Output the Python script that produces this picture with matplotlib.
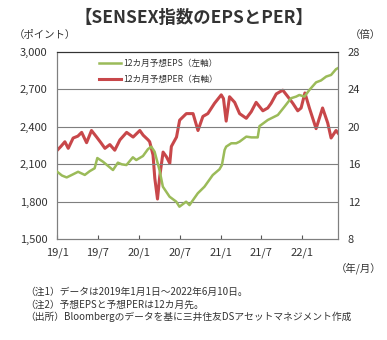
import matplotlib
matplotlib.use("Agg")
import matplotlib.pyplot as plt
import numpy as np
import pandas as pd

plt.rcParams['font.family'] = ['Noto Sans CJK JP', 'DejaVu Sans']

eps_dates = ["2019-01-01","2019-01-22","2019-02-12","2019-03-07","2019-04-04","2019-05-04","2019-05-26",
             "2019-06-17","2019-06-29","2019-07-24","2019-08-14","2019-09-07","2019-09-29","2019-10-16",
             "2019-11-06","2019-12-05","2019-12-20","2020-01-19","2020-02-10","2020-02-25","2020-03-11",
             "2020-04-02","2020-04-17","2020-05-17","2020-06-16","2020-06-30","2020-07-30","2020-08-14",
             "2020-09-20","2020-10-20","2020-11-26","2020-12-26","2021-01-06","2021-01-18","2021-01-25",
             "2021-02-17","2021-03-11","2021-03-26","2021-04-25","2021-05-18","2021-06-15","2021-06-23",
             "2021-07-30","2021-09-13","2021-10-13","2021-11-11","2021-12-04","2021-12-18","2022-01-10",
             "2022-02-01","2022-03-03","2022-03-25","2022-04-17","2022-05-09","2022-05-31","2022-06-10"]
eps_values = [2040,2010,1995,2015,2040,2015,2045,
              2068,2150,2121,2090,2054,2113,2100,
              2094,2156,2134,2166,2220,2241,2201,
              2054,1921,1841,1801,1761,1801,1774,
              1868,1921,2014,2060,2094,2214,2241,
              2268,2268,2281,2321,2315,2315,2405,
              2454,2494,2561,2628,2641,2654,2641,
              2694,2755,2770,2801,2814,2860,2870]

per_dates = ["2019-01-01","2019-01-17","2019-02-04","2019-02-19","2019-03-13","2019-04-03","2019-04-20",
             "2019-05-12","2019-06-03","2019-06-26","2019-07-15","2019-08-02","2019-08-24","2019-09-15",
             "2019-10-08","2019-11-07","2019-12-06","2020-01-05","2020-01-20","2020-02-11","2020-02-18",
             "2020-03-04","2020-03-12","2020-03-24","2020-04-03","2020-04-18","2020-05-03","2020-05-18",
             "2020-05-25","2020-06-17","2020-07-01","2020-07-31","2020-08-30","2020-09-21","2020-10-13",
             "2020-11-04","2020-12-04","2021-01-03","2021-01-13","2021-01-25","2021-02-09","2021-03-04",
             "2021-03-26","2021-04-25","2021-05-17","2021-06-08","2021-07-08","2021-07-30","2021-08-14",
             "2021-09-06","2021-10-05","2021-10-28","2021-11-19","2021-12-11","2021-12-26","2022-01-12",
             "2022-02-01","2022-03-03","2022-04-01","2022-04-24","2022-05-09","2022-05-31","2022-06-10"]
per_values = [17.5,17.9,18.4,17.7,18.8,19.0,19.4,
              18.3,19.6,18.9,18.3,17.7,18.1,17.5,
              18.6,19.4,18.9,19.6,19.1,18.6,18.4,
              17.0,14.5,12.3,14.7,17.3,16.8,16.1,
              17.9,18.9,20.7,21.4,21.4,19.6,21.1,
              21.4,22.5,23.4,23.0,20.6,23.2,22.6,
              21.4,20.9,21.6,22.6,21.7,22.0,22.5,
              23.5,23.9,23.2,22.5,21.7,22.0,23.6,
              22.0,19.8,22.0,20.4,18.8,19.6,19.3]

tick_dates = ["2019-01-01","2019-07-01","2020-01-01","2020-07-01","2021-01-01","2021-07-01","2022-01-01"]
tick_labels = ["19/1","19/7","20/1","20/7","21/1","21/7","22/1"]
left_ticks = [1500,1800,2100,2400,2700,3000]
right_ticks = [8,12,16,20,24,28]

eps_x = pd.to_datetime(eps_dates)
per_x = pd.to_datetime(per_dates)

fig = plt.figure(figsize=(3.87, 3.40), dpi=100)
ax = fig.add_axes([0.148, 0.296, 0.726, 0.552])
ax2 = ax.twinx()

green = '#9bbb59'
red = '#c8474a'

ax.set_ylim(1500, 3000)
ax.set_yticks(left_ticks)
ax.set_yticklabels([f"{v:,}" for v in left_ticks])
ax2.set_ylim(8, 28)
ax2.set_yticks(right_ticks)
ax.set_xlim(pd.Timestamp("2019-01-01"), pd.Timestamp("2022-06-10"))
ax.set_xticks(pd.to_datetime(tick_dates))
ax.set_xticklabels(tick_labels)

for v in left_ticks[1:-1]:
    ax.axhline(v, color='#7f7f7f', lw=0.8, zorder=0)

ax2.plot(per_x, per_values, color=red, lw=2.2, solid_joinstyle='round', label='12カ月予想PER（右軸）', zorder=2)
l1, = ax.plot(eps_x, eps_values, color=green, lw=1.8, solid_joinstyle='round', label='12カ月予想EPS（左軸）', zorder=3)
ax.set_zorder(ax2.get_zorder() + 1)
ax.patch.set_visible(False)

for a in (ax, ax2):
    for s in a.spines.values():
        s.set_color('#7f7f7f')
        s.set_linewidth(0.8)
    a.spines['top'].set_color('#333333')

ax.tick_params(axis='y', length=0, labelsize=8, colors='#333333', pad=7)
ax2.tick_params(axis='y', length=0, labelsize=8, colors='#333333', pad=7)
ax.tick_params(axis='x', direction='in', length=3, color='#555555', labelsize=8, labelcolor='#333333', pad=6)

h2, = ax2.get_lines()
leg = ax.legend([l1, h2], [l1.get_label(), h2.get_label()], loc='upper left',
                bbox_to_anchor=(0.12, 1.0), frameon=False, fontsize=6.2,
                handlelength=2.6, handletextpad=0.3, labelspacing=0.8)
for t in leg.get_texts():
    t.set_color('#333333')

fig.text(0.5, 0.948, '【SENSEX指数のEPSとPER】', ha='center', va='center', fontsize=12.5,
         fontweight='bold', color='#333333')
fig.text(0.035, 0.897, '（ポイント）', ha='left', va='center', fontsize=7.5, color='#333333')
fig.text(0.985, 0.897, '（倍）', ha='right', va='center', fontsize=7.5, color='#333333')
fig.text(0.985, 0.21, '（年/月）', ha='right', va='center', fontsize=7.5, color='#333333')
notes = ['（注1）データは2019年1月1日～2022年6月10日。',
         '（注2）予想EPSと予想PERは12カ月先。',
         '（出所）Bloombergのデータを基に三井住友DSアセットマネジメント作成']
for i, n in enumerate(notes):
    fig.text(0.065, 0.142 - i*0.037, n, ha='left', va='center', fontsize=7, color='#333333')

fig.savefig('out.png', dpi=100)
